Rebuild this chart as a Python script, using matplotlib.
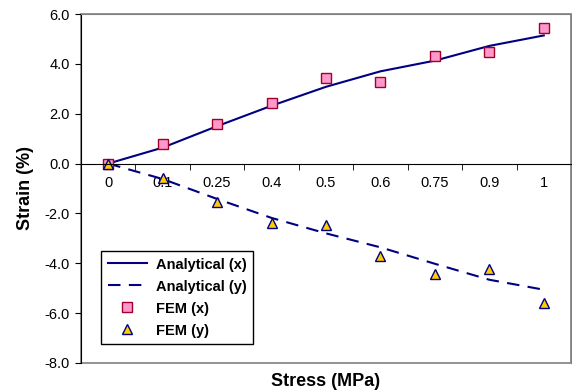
import matplotlib.pyplot as plt
import numpy as np
from matplotlib.patches import Rectangle

plt.rcParams['font.family'] = ['Liberation Sans', 'DejaVu Sans']

# Daten
stress = ['0', '0.1', '0.25', '0.4', '0.5', '0.6', '0.75', '0.9', '1']
ana_x = [0.0, 0.64, 1.50, 2.32, 3.08, 3.70, 4.13, 4.72, 5.14]
ana_y = [0.0, -0.62, -1.42, -2.18, -2.80, -3.36, -4.02, -4.66, -5.06]
fem_x = [0.0, 0.77, 1.58, 2.42, 3.44, 3.29, 4.33, 4.49, 5.43]
fem_y = [0.0, -0.56, -1.55, -2.38, -2.48, -3.72, -4.41, -4.23, -5.58]

navy = '#000080'

fig = plt.figure(figsize=(5.72, 3.92), dpi=100)
ax = fig.add_axes([81/572, 1-363/392, 490/572, 349/392])

x = np.arange(len(stress))
ax.plot(x, ana_x, color=navy, lw=1.5, label='Analytical (x)')
ax.plot(x, ana_y, color=navy, lw=1.5, ls=(0, (6, 4)), label='Analytical (y)')
ax.plot(x, fem_x, ls='none', marker='s', ms=7, mfc='#FF99CC', mec='#A0002A', mew=1, label='FEM (x)')
ax.plot(x, fem_y, ls='none', marker='^', ms=7.5, mfc='#FFCC00', mec=navy, mew=1, label='FEM (y)')

ax.set_xlim(-0.5, 8.5)
ax.set_ylim(-8, 6)
ax.set_yticks(np.arange(-8, 7, 2))
ax.set_yticklabels(['%.1f' % v for v in np.arange(-8, 7, 2)])

# x-Achse bei y=0
ax.spines['bottom'].set_position(('data', 0))
ax.spines['bottom'].set_color('black')
ax.spines['left'].set_color('black')
ax.spines['top'].set_color('#808080')
ax.spines['right'].set_color('#808080')
ax.add_patch(Rectangle((0, 0), 1, 1, transform=ax.transAxes, fill=False,
                       edgecolor='#808080', lw=1.2, clip_on=False, zorder=0))

ax.set_xticks(x)
ax.set_xticklabels(stress)
ax.set_xticks(np.arange(0.5, 8.5, 1), minor=True)
ax.tick_params(axis='x', which='major', length=0, pad=9, labelsize=10.5)
ax.tick_params(axis='x', which='minor', length=4, direction='out')
ax.tick_params(axis='y', length=4, direction='out', pad=4, labelsize=10.5)

# Achsenbeschriftung
ax.text(0.5, -0.03, 'Stress (MPa)', transform=ax.transAxes, ha='center', va='top',
        fontsize=13, fontweight='bold')
ax.set_ylabel('Strain (%)', fontsize=13, fontweight='bold', labelpad=8)

leg = ax.legend(loc='lower left', bbox_to_anchor=(0.041, 0.054), borderaxespad=0,
                fancybox=False, edgecolor='black', framealpha=1, handlelength=2.7,
                handletextpad=0.6, labelspacing=0.55, borderpad=0.45,
                prop={'weight': 'bold', 'size': 10.5})
leg.get_frame().set_linewidth(1)

fig.savefig('out.png', dpi=100)
